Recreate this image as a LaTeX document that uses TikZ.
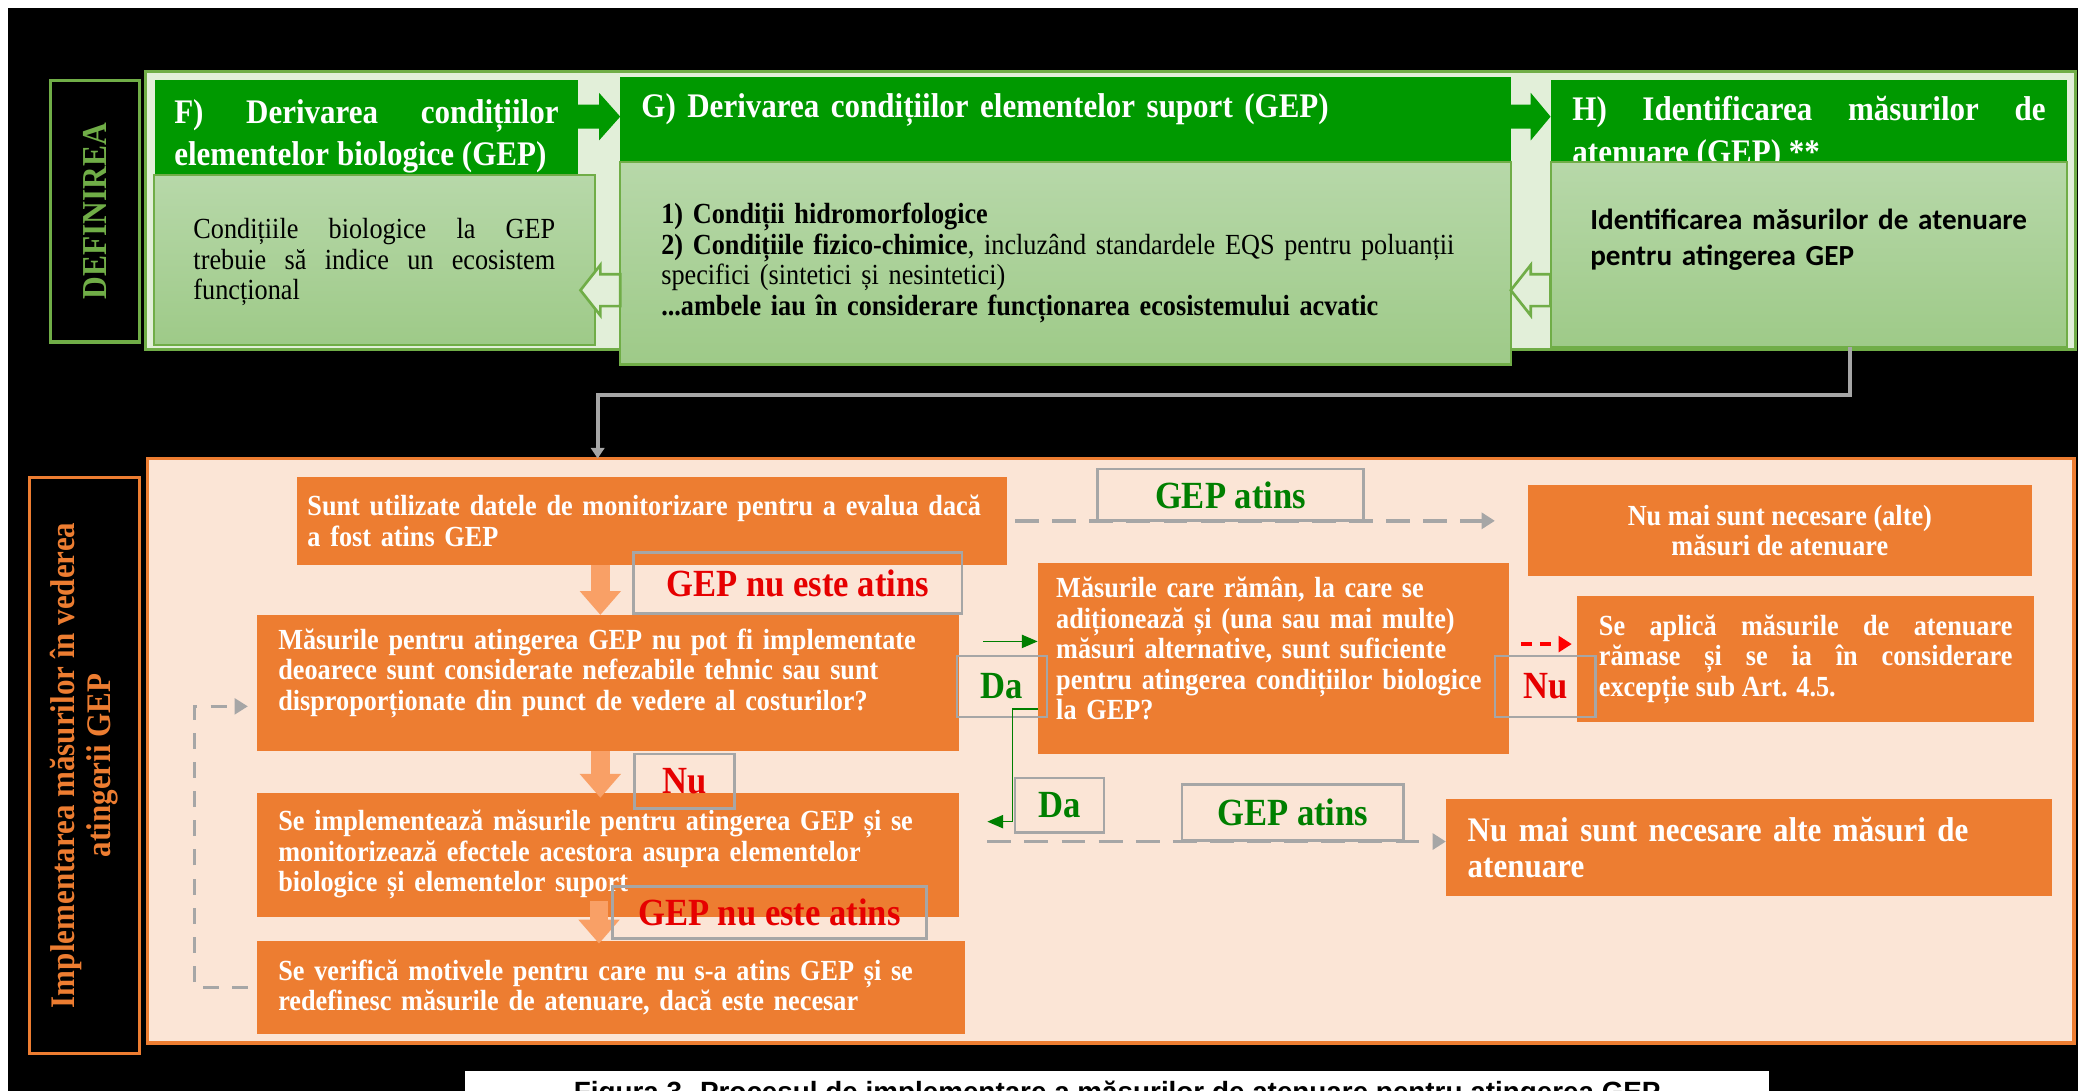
\documentclass[tikz,border=0pt]{standalone}
\usepackage{fontspec}
\setmainfont{Liberation Serif}[FakeStretch=0.9]
\newfontfamily\calfont{Carlito}
\newfontfamily\capfont{Liberation Sans}
\usepackage{tikz}
\usetikzlibrary{arrows.meta, positioning, calc}
\definecolor{mOrange}{HTML}{ED7D31}
\definecolor{mPeach}{HTML}{FBE5D6}
\definecolor{mDarkGreen}{HTML}{009900}
\definecolor{mGreen}{HTML}{70AD47}
\definecolor{mPale}{HTML}{E2EFD9}
\definecolor{mSoftTop}{HTML}{B7D8A9}
\definecolor{mSoftBot}{HTML}{9ECA88}
\definecolor{mArrow}{HTML}{F9A066}
\definecolor{mGrey}{HTML}{A6A6A6}
\definecolor{mTextGreen}{HTML}{007F00}
\definecolor{mTextRed}{HTML}{E60000}
\newcommand{\bodyf}{\fontsize{11}{11.5}\selectfont}
\newcommand{\headf}{\fontsize{13}{16}\selectfont}
\newcommand{\labf}{\fontsize{14.5}{16}\selectfont}
\newcommand{\bigf}{\fontsize{13}{13.5}\selectfont}
\newcommand{\deff}{\fontsize{13.2}{15}\selectfont}
\newcommand{\implf}{\fontsize{13}{13.5}\selectfont}
\newcommand{\calf}{\calfont\fontsize{11}{13.5}\selectfont}
\newcommand{\capf}{\capfont\fontsize{10.5}{12}\selectfont}
\tikzset{
  box/.style={anchor=north west, inner sep=0pt, outer sep=0pt},
  hdr/.style={box, fill=mDarkGreen, text=white, font=\headf\bfseries},
  gbox/.style={box, draw=mGreen, line width=0.8pt, top color=mSoftTop, bottom color=mSoftBot},
  obox/.style={box, fill=mOrange, text=white, font=\bodyf\bfseries, align=left},
  lab/.style={box, draw=mGrey, line width=1pt, font=\labf\bfseries},
  hollow/.style={fill=mPale, draw=mGreen, line width=1pt},
  downarr/.style={draw=mArrow, line width=7pt, -{Triangle[width=15pt,length=9pt]}},
  dasharr/.style={draw=mGrey, line width=1.3pt, dash pattern=on 9pt off 5pt, -{Triangle[width=6pt,length=5pt]}},
  fbarr/.style={draw=mGrey, line width=1pt, dash pattern=on 6pt off 5pt, -{Triangle[width=6pt,length=5pt]}},
  garr/.style={draw=mTextGreen, line width=0.6pt, -{Triangle[width=5pt,length=6pt]}},
  rarr/.style={draw=red, line width=1.2pt, dash pattern=on 4pt off 3pt, -{Triangle[width=6pt,length=5pt]}},
}
\begin{document}
\begin{tikzpicture}[x=0.5pt, y=-0.5pt]
  \useasboundingbox (0,0) rectangle (1568,823);
  \clip (0,0) rectangle (1568,823);
  \fill[white] (0,0) rectangle (1568,823);
  \fill[black] (6,6) rectangle (1568,823);

  % definirea
  \node[box, fill=mPale, draw=mGreen, line width=1.2pt, minimum width=728pt, minimum height=105pt] (topframe) at (110,54) {};
  \node[box, fill=black, draw=mGreen, line width=1.2pt, minimum width=33.5pt, minimum height=98.5pt] (defbox) at (38,61) {};
  \node[rotate=90, text=mGreen, font=\deff\bfseries] (deftext) at (defbox.center) {DEFINIREA};

  \node[hdr, minimum width=159.5pt, minimum height=37.5pt, text width=145pt, align=justify, text height=16.5pt, text depth=21pt] (fhead) at (117,60)
    {F) Derivarea condițiilor\linebreak elementelor biologice (GEP)};
  \node[gbox, minimum width=166.5pt, minimum height=64pt, text width=136.5pt, align=justify, font=\bodyf, text height=24pt, text depth=40pt] (fbody) at (116,132)
    {Condițiile biologice la GEP\linebreak trebuie să indice un ecosistem\linebreak funcțional};
  \node[hdr, minimum width=336pt, minimum height=32pt, text width=320pt, align=left, text height=15.5pt, text depth=16.5pt] (ghead) at (468,58)
    {G) Derivarea condițiilor elementelor suport (GEP)};
  \node[gbox, minimum width=336pt, minimum height=76.5pt, text width=305pt, align=left, font=\bodyf, text height=23.5pt, text depth=53pt] (gbody) at (468,122)
    {\textbf{1) Condiții hidromorfologice}\\ \textbf{2) Condițiile fizico-chimice}, incluzând standardele EQS pentru poluanții\\ specifici (sintetici și nesintetici)\\ \textbf{...ambele iau în considerare funcționarea ecosistemului acvatic}};
  \node[hdr, minimum width=195pt, minimum height=31pt, text width=178.5pt, align=justify, text height=15.5pt, text depth=15.5pt] (hhead) at (1170,60)
    {H) Identificarea măsurilor de\linebreak atenuare (GEP) **};
  \node[gbox, minimum width=195pt, minimum height=70pt, text width=165pt, align=left, font=\calf\bfseries, text height=25.5pt, text depth=44.5pt] (hbody) at (1170,122)
    {Identificarea măsurilor de atenuare\\ pentru atingerea GEP};

  % block arrows
  \coordinate (ay) at (0,88);
  \coordinate (hy) at (0,219);
  \fill[mDarkGreen] (fhead.east |- ay) ++(0,-9) -- ++(16,0) -- ++(0,-9) -- ++(16,18) -- ++(-16,18) -- ++(0,-9) -- ++(-16,0) -- cycle;
  \fill[mDarkGreen] (ghead.east |- ay) ++(0,-9) -- ++(15,0) -- ++(0,-9) -- ++(15,18) -- ++(-15,18) -- ++(0,-9) -- ++(-15,0) -- cycle;
  \draw[hollow] (gbody.west |- hy) ++(0,-12) -- ++(-15,0) -- ++(0,-7) -- ++(-15,19) -- ++(15,19) -- ++(0,-7) -- ++(15,0) -- cycle;
  \draw[hollow] (hbody.west |- hy) ++(0,-12) -- ++(-15,0) -- ++(0,-7) -- ++(-15,19) -- ++(15,19) -- ++(0,-7) -- ++(15,0) -- cycle;

  % implementare
  \node[box, fill=black, draw=mOrange, line width=1.2pt, minimum width=41.5pt, minimum height=217.5pt] (implbox) at (22,360) {};
  \node[rotate=90, text=mOrange, font=\implf\bfseries, align=center] (impltext) at (implbox.center)
    {Implementarea măsurilor în vederea\\ atingerii GEP};
  \node[box, fill=mPeach, draw=mOrange, line width=1.2pt, minimum width=727pt, minimum height=220.5pt] (botframe) at (111,346) {};

  \coordinate (bend) at (451,298);
  \draw[mGrey, line width=1.5pt, -{Triangle[width=5pt,length=4pt]}] ([xshift=15.5pt]hbody.south) |- (bend) -- (bend |- botframe.north);

  \node[obox, minimum width=268pt, minimum height=33pt, text width=260pt] (boxA) at (224,360)
    {Sunt utilizate datele de monitorizare pentru a evalua dacă\\ a fost atins GEP};
  \node[obox, minimum width=190pt, minimum height=34.5pt, align=center] (boxDone) at (1153,366)
    {Nu mai sunt necesare (alte)\\ măsuri de atenuare};
  \node[obox, minimum width=265pt, minimum height=51.5pt, text width=249pt, text height=13pt, text depth=38.5pt] (boxB) at (194,464)
    {Măsurile pentru atingerea GEP nu pot fi implementate\\ deoarece sunt considerate nefezabile tehnic sau sunt\\ disproporționate din punct de vedere al costurilor?};
  \node[obox, minimum width=178pt, minimum height=72pt, text width=164pt, text height=13pt, text depth=59pt] (boxC) at (783,425)
    {Măsurile care rămân, la care se\\ adiționează și (una sau mai multe)\\ măsuri alternative, sunt suficiente\\ pentru atingerea condițiilor biologice\\ la GEP?};
  \node[obox, minimum width=172.5pt, minimum height=47.5pt, text width=156pt, align=justify] (boxD) at (1190,450)
    {Se aplică măsurile de atenuare\linebreak rămase și se ia în considerare\linebreak excepție sub Art. 4.5.};
  \node[obox, minimum width=265pt, minimum height=47pt, text width=249pt] (boxE) at (194,598)
    {Se implementează măsurile pentru atingerea GEP și se\\ monitorizează efectele acestora asupra elementelor\\ biologice și elementelor suport};
  \node[obox, minimum width=228.5pt, minimum height=36.5pt, text width=212pt, font=\bigf\bfseries] (boxF) at (1091,603)
    {Nu mai sunt necesare alte măsuri de\\ atenuare};
  \node[obox, minimum width=267pt, minimum height=35pt, text width=251pt] (boxG) at (194,710)
    {Se verifică motivele pentru care nu s-a atins GEP și se\\ redefinesc măsurile de atenuare, dacă este necesar};

  % down arrows
  \draw[downarr] ([xshift=-3pt]boxB.north |- boxA.south) -- ([xshift=-3pt]boxB.north);
  \draw[downarr] ([xshift=-3pt]boxE.north |- boxB.south) -- ([xshift=-3pt,yshift=-2pt]boxE.north);
  \draw[downarr] ([xshift=-4.5pt,yshift=6pt]boxG.north |- boxE.south) -- ([xshift=-4.5pt,yshift=-1pt]boxG.north);

  % labels
  \node[lab, text=mTextGreen, minimum width=100.5pt, minimum height=19.5pt] (labAtins) at (828,354) {GEP atins};
  \node[lab, text=mTextRed, minimum width=124pt, minimum height=23pt] (labNotA) at (478,417) {GEP nu este atins};
  \node[lab, text=mTextGreen, minimum width=34pt, minimum height=23pt] (labDaC) at (722,495) {Da};
  \node[lab, text=mTextRed, minimum width=38pt, minimum height=23pt] (labNuD) at (1128,495) {Nu};
  \node[lab, text=mTextRed, minimum width=37.5pt, minimum height=20.5pt] (labNuB) at (479,569) {Nu};
  \node[lab, text=mTextGreen, minimum width=33.5pt, minimum height=20.5pt] (labDaE) at (766,587) {Da};
  \node[lab, text=mTextGreen, minimum width=83.5pt, minimum height=21pt] (labAtinsE) at (892,592) {GEP atins};
  \node[lab, text=mTextRed, minimum width=118.5pt, minimum height=19.5pt] (labNotE) at (462,669) {GEP nu este atins};

  % connectors
  \coordinate (dashE) at (745,635);
  \coordinate (fbtop) at (147,533);
  \coordinate (gin) at (742,484);
  \coordinate (gout) at (0,535);
  \coordinate (gdown) at (764,620);
  \coordinate (gend) at (745,620);
  \coordinate (rstart) at (1148,486);
  \draw[dasharr] ([xshift=3pt]boxA.east) -- ([xshift=-12.5pt]boxDone.west |- boxA.east);
  \draw[dasharr] (dashE) -- (boxF.west |- dashE);
  \draw[fbarr] ([xshift=-3.5pt]boxG.west) -| (fbtop) -- ([xshift=-3.5pt]boxB.west |- fbtop);
  \draw[garr] (gin) -- (boxC.west |- gin);
  \draw[garr] (boxC.west |- gout) -- (gdown |- gout) -- (gdown) -- (gend);
  \draw[rarr, shorten >=2pt] (rstart) -- (boxD.west |- rstart);

  % caption
  \node[box, fill=white, minimum width=492pt, minimum height=30pt] (capbox) at (351,808) {};
  \node[font=\capf\bfseries] (caption) at (843,826) {Figura 3. Procesul de implementare a măsurilor de atenuare pentru atingerea GEP};
\end{tikzpicture}
\end{document}
